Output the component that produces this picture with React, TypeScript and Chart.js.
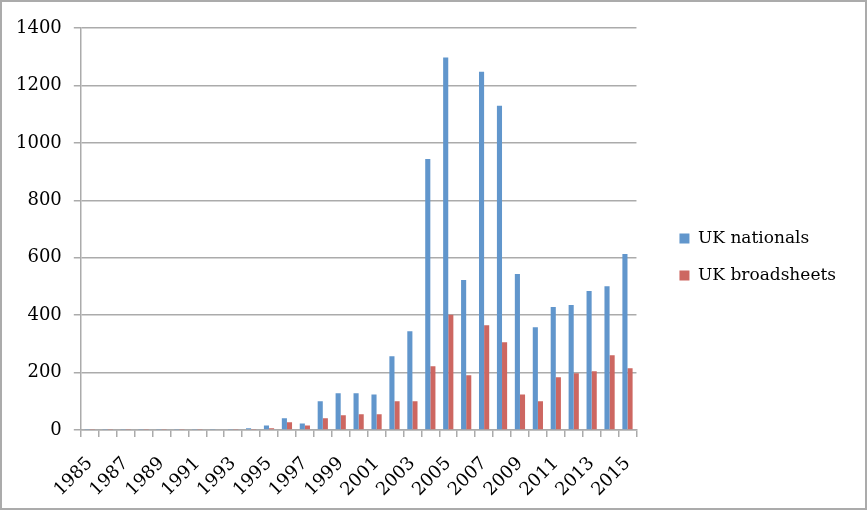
import React, { useEffect, useRef } from 'react';
import Chart from 'chart.js/auto';

const years: string[] = [
  '1985', '1986', '1987', '1988', '1989', '1990', '1991', '1992', '1993', '1994',
  '1995', '1996', '1997', '1998', '1999', '2000', '2001', '2002', '2003', '2004',
  '2005', '2006', '2007', '2008', '2009', '2010', '2011', '2012', '2013', '2014', '2015',
];

const ukNationals: number[] = [
  2, 2, 2, 2, 2, 2, 2, 2, 2, 6,
  16, 41, 23, 100, 128, 128, 124, 257, 344, 944,
  1297, 522, 1248, 1129, 543, 358, 428, 435, 484, 501, 613,
];

const ukBroadsheets: number[] = [
  2, 2, 2, 2, 2, 2, 2, 0, 2, 2,
  6, 27, 16, 41, 51, 55, 55, 100, 100, 222,
  401, 191, 365, 306, 124, 100, 184, 198, 205, 260, 215,
];

const yTicks: number[] = [0, 200, 400, 600, 800, 1000, 1200, 1400];

const FONT = "'DejaVu Serif', serif";
const GRID = '#ababab';

const App: React.FC = () => {
  const canvasRef = useRef<HTMLCanvasElement>(null);
  const chartRef = useRef<Chart | null>(null);

  useEffect(() => {
    if (!canvasRef.current) return;
    if (chartRef.current) chartRef.current.destroy();

    chartRef.current = new Chart(canvasRef.current, {
      type: 'bar',
      data: {
        labels: years,
        datasets: [
          {
            label: 'UK nationals',
            data: ukNationals,
            backgroundColor: '#6196cc',
            barPercentage: 1,
            categoryPercentage: 0.57,
          },
          {
            label: 'UK broadsheets',
            data: ukBroadsheets,
            backgroundColor: '#cd6761',
            barPercentage: 1,
            categoryPercentage: 0.57,
          },
        ],
      },
      options: {
        animation: false,
        responsive: true,
        maintainAspectRatio: false,
        layout: {
          padding: { left: 2, top: 4, right: 19, bottom: 0 },
        },
        plugins: {
          tooltip: { enabled: false },
          legend: {
            position: 'right',
            maxWidth: 240,
            labels: {
              color: '#000',
              boxWidth: 10,
              boxHeight: 10,
              padding: 20,
              font: { family: FONT, size: 17 },
            },
          },
        },
        scales: {
          x: {
            grid: {
              display: true,
              drawOnChartArea: false,
              drawTicks: true,
              tickLength: 7,
              color: GRID,
              lineWidth: 1.5,
            },
            border: { color: GRID, width: 1.5 },
            ticks: {
              autoSkip: false,
              maxRotation: 45,
              minRotation: 45,
              color: '#000',
              padding: 16,
              font: { family: FONT, size: 18 },
              callback: (_v, i) => (i % 2 === 0 ? years[i] : ''),
            },
            afterFit: (axis) => {
              axis.height = 78;
              axis.paddingLeft = 0;
              axis.paddingRight = 0;
            },
          },
          y: {
            min: 0,
            max: 1400,
            afterBuildTicks: (axis) => {
              axis.ticks = yTicks.map((v) => ({ value: v }));
            },
            afterFit: (axis) => {
              axis.paddingTop = 26;
            },
            grid: {
              color: GRID,
              lineWidth: 1.5,
              tickLength: 7,
            },
            border: { color: GRID, width: 1.5 },
            ticks: {
              color: '#000',
              padding: 12,
              font: { family: FONT, size: 18 },
              callback: (v) => String(v),
            },
          },
          // empty right-hand axis, only keeps a gap between the plot and the legend
          gap: {
            type: 'linear',
            position: 'right',
            display: true,
            grid: { display: false, drawOnChartArea: false },
            border: { display: false },
            ticks: { display: false },
            afterFit: (axis) => {
              axis.width = 23;
            },
          },
        },
      },
    });

    return () => {
      if (chartRef.current) {
        chartRef.current.destroy();
        chartRef.current = null;
      }
    };
  }, []);

  return (
    <div
      style={{
        position: 'absolute',
        left: 0,
        top: 0,
        width: 867,
        height: 510,
        boxSizing: 'border-box',
        border: `2px solid ${GRID}`,
        background: '#fff',
      }}
    >
      <div style={{ position: 'relative', width: '100%', height: '100%' }}>
        <canvas ref={canvasRef} />
      </div>
    </div>
  );
};

export default App;
